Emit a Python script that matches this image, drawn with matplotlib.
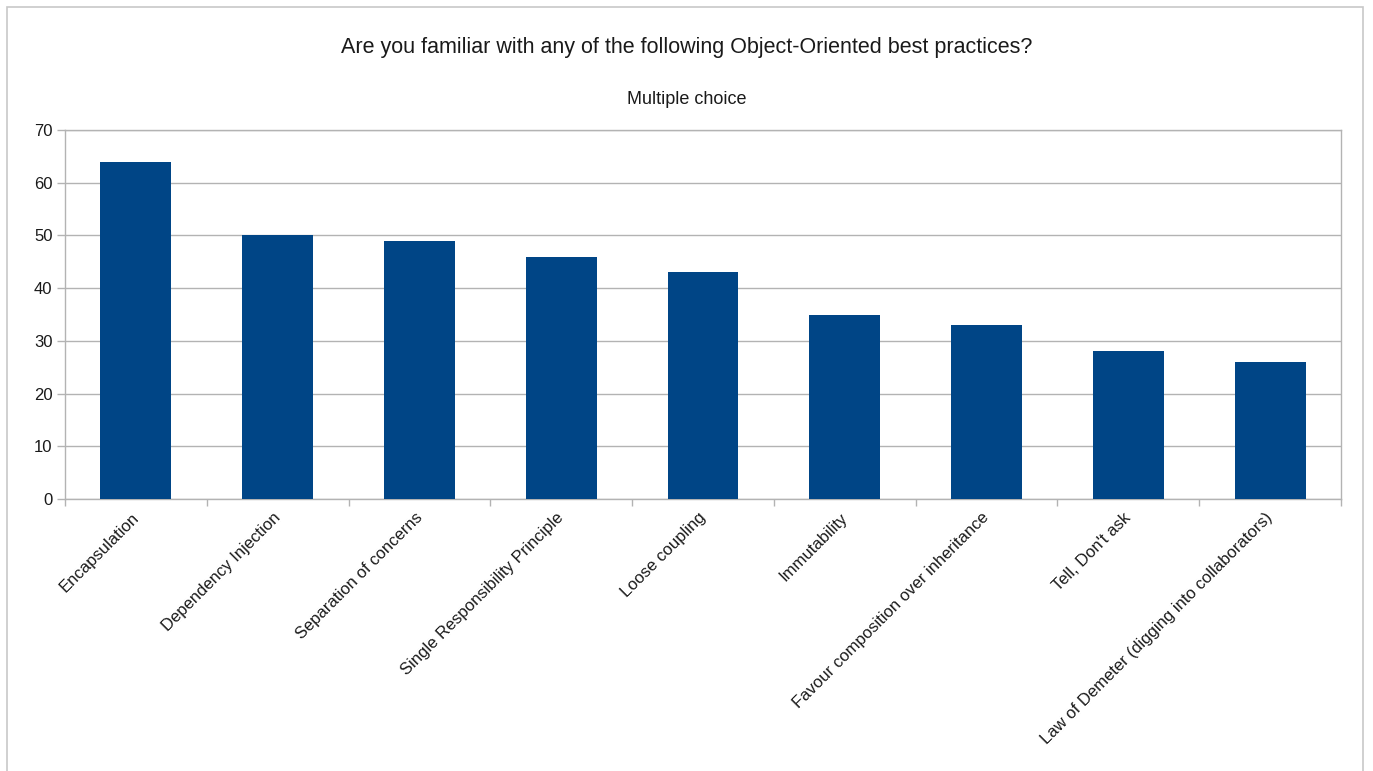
import matplotlib.pyplot as plt
import matplotlib.transforms as mtransforms
import numpy as np
from matplotlib.patches import Rectangle

plt.rcParams['font.family'] = ['Liberation Sans', 'DejaVu Sans']

# Survey answers
practices = ['Encapsulation', 'Dependency Injection', 'Separation of concerns',
             'Single Responsibility Principle', 'Loose coupling', 'Immutability',
             'Favour composition over inheritance', "Tell, Don't ask",
             'Law of Demeter (digging into collaborators)']
counts = [64, 50, 49, 46, 43, 35, 33, 28, 26]
y_ticks = [0, 10, 20, 30, 40, 50, 60, 70]

W, H = 1373, 771
fig = plt.figure(figsize=(W / 100, H / 100), dpi=100)

# outer frame of the chart object
fig.patches.append(Rectangle((7 / W, -0.05), (1363 - 7) / W, 1.05 - 7 / H,
                             transform=fig.transFigure, fill=False,
                             edgecolor='#c8c8c8', linewidth=1.2))

left, right, top, bottom = 65, 1341, 130, 499
ax = fig.add_axes([left / W, 1 - bottom / H, (right - left) / W, (bottom - top) / H])

x = np.arange(len(practices))
ax.bar(x, counts, width=0.5, color='#004586', zorder=3)

ax.set_xlim(-0.5, len(practices) - 0.5)
ax.set_ylim(0, 70)
ax.set_yticks(y_ticks)
ax.yaxis.grid(True, color='#b3b3b3', linewidth=1.0, zorder=0)

for s in ax.spines.values():
    s.set_color('#b3b3b3')
    s.set_linewidth(1.0)

# category separators as ticks, labels at the centres
ax.set_xticks(np.arange(len(practices) + 1) - 0.5)
ax.set_xticklabels([])
ax.tick_params(axis='x', which='major', length=5, color='#b3b3b3', width=1.0)
ax.set_xticks(x, minor=True)
ax.set_xticklabels(practices, minor=True, rotation=45, ha='right',
                   rotation_mode='anchor', fontsize=12, color='#1a1a1a')
ax.tick_params(axis='x', which='minor', length=0, pad=8)
ax.tick_params(axis='y', length=6, color='#b3b3b3', width=1.0, pad=3,
               labelsize=12, labelcolor='#1a1a1a')

# nudge the slanted labels a little to the left
shift = mtransforms.ScaledTranslation(-5 / 100, 0, fig.dpi_scale_trans)
for lbl in ax.get_xticklabels(minor=True):
    lbl.set_transform(lbl.get_transform() + shift)

fig.text(0.5, 1 - 47 / H, 'Are you familiar with any of the following Object-Oriented best practices?',
         ha='center', va='center', fontsize=15.5, color='#1a1a1a')
fig.text(0.5, 1 - 100 / H, 'Multiple choice', ha='center', va='center',
         fontsize=13, color='#1a1a1a')

fig.savefig('out.png', dpi=100)
